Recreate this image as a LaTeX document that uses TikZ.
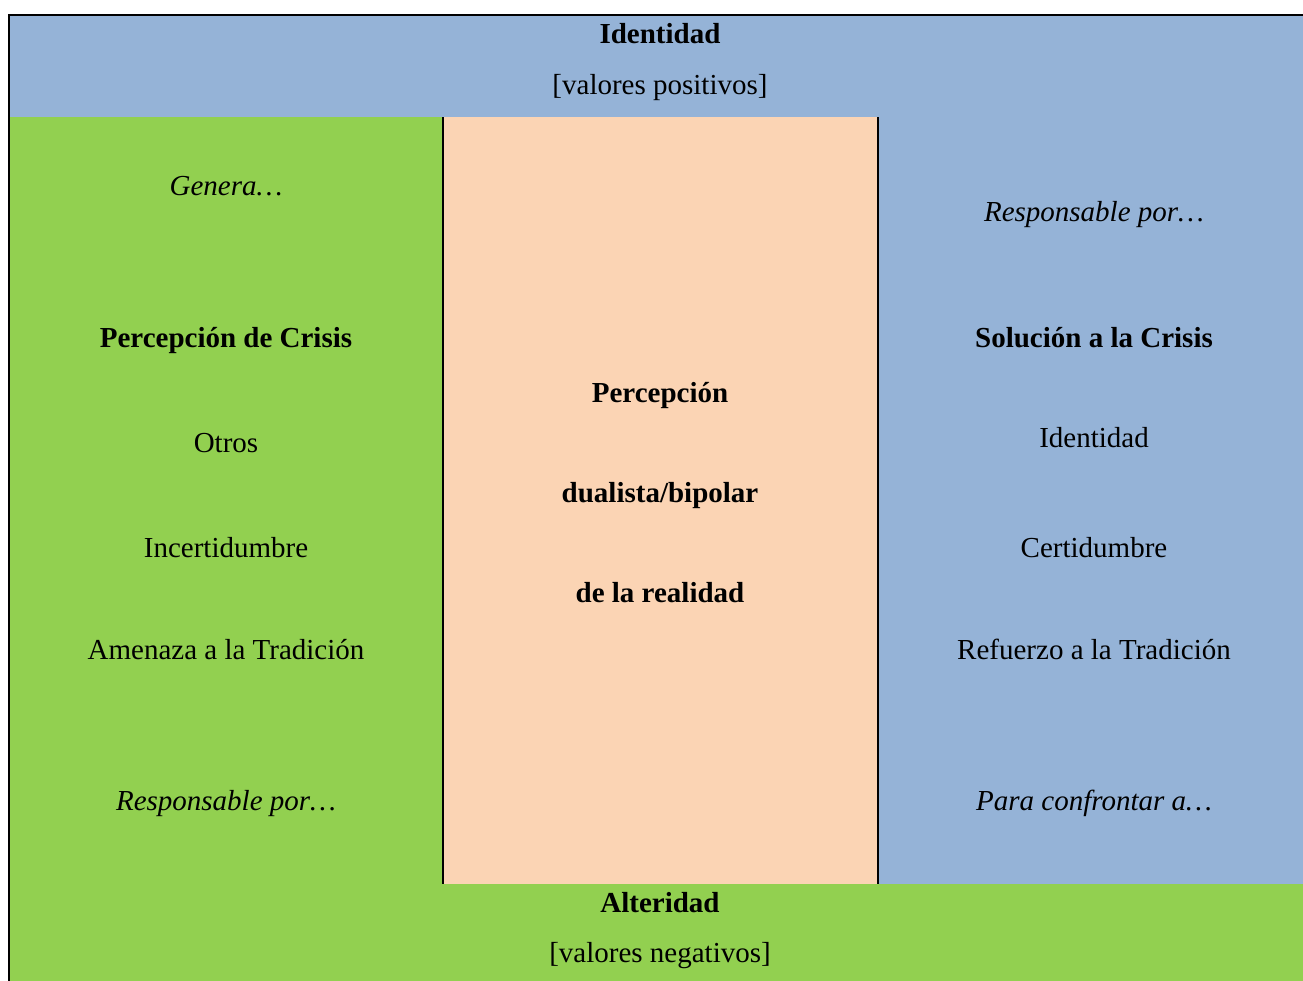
\documentclass[tikz,border=0pt]{standalone}
\usepackage{fontspec}
\setmainfont{Liberation Serif}
\definecolor{idblue}{RGB}{149,179,215}
\definecolor{altgreen}{RGB}{146,208,80}
\definecolor{midpeach}{RGB}{251,212,180}
\begin{document}
\begin{tikzpicture}[x=1pt,y=-1pt,
    cell/.style={anchor=base,inner sep=0pt,font=\fontsize{29}{35}\selectfont},
    head/.style={cell,font=\fontsize{29}{35}\selectfont\bfseries},
    cue/.style={cell,font=\fontsize{29}{35}\selectfont\itshape},
    rule/.style={line width=2pt}]
  \useasboundingbox (0,0) rectangle (1303,980);
  % bands and columns
  \fill[idblue] (9,15) rectangle (1311,117);
  \fill[altgreen] (9,117) rectangle (443,884);
  \fill[midpeach] (443,117) rectangle (877.6,884);
  \fill[idblue] (877.6,117) rectangle (1311,884);
  \fill[altgreen] (9,884) rectangle (1311,990);
  \draw[rule] (9,990) -- (9,15) -- (1311,15);
  \draw[rule] (443,117) -- (443,884);
  \draw[rule] (877.6,117) -- (877.6,884);
  % top band
  \node[head] (idtop) at (660,43.5) {Identidad};
  \node[cell] (valpos) at (660,94.5) {[valores positivos]};
  % left column
  \node[cue] (genera) at (226,195.5) {Genera…};
  \node[head] (crisis) at (226,347) {Percepción de Crisis};
  \node[cell] (otros) at (226,452.5) {Otros};
  \node[cell] (incert) at (226,557.5) {Incertidumbre};
  \node[cell] (amenaza) at (226,659.5) {Amenaza a la Tradición};
  \node[cue] (respl) at (226,810.5) {Responsable por…};
  % middle column
  \node[head] (perc) at (660,402) {Percepción};
  \node[head] (dual) at (660,502) {dualista/bipolar};
  \node[head] (real) at (660,602) {de la realidad};
  % right column
  \node[cue] (respr) at (1094,221.5) {Responsable por…};
  \node[head] (solucion) at (1094,347) {Solución a la Crisis};
  \node[cell] (idright) at (1094,447.5) {Identidad};
  \node[cell] (cert) at (1094,557.5) {Certidumbre};
  \node[cell] (refuerzo) at (1094,659.5) {Refuerzo a la Tradición};
  \node[cue] (confront) at (1094,810.5) {Para confrontar a…};
  % bottom band
  \node[head] (altbot) at (660,912.5) {Alteridad};
  \node[cell] (valneg) at (660,962.5) {[valores negativos]};
\end{tikzpicture}
\end{document}
